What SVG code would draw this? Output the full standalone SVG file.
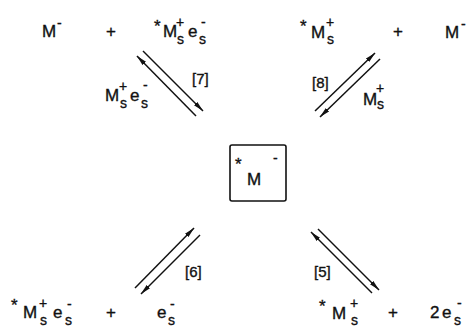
<svg xmlns="http://www.w3.org/2000/svg" width="475" height="330" viewBox="0 0 475 330">
<defs>
<marker id="ah" viewBox="0 0 11 6" refX="10.5" refY="3" markerWidth="11" markerHeight="6" markerUnits="userSpaceOnUse" orient="auto">
<path d="M0,0.6 L11,3 L0,5.4 Z" fill="#111"/>
</marker>
</defs>
<style>
text{font-family:"Liberation Sans","DejaVu Sans",sans-serif;fill:#111;stroke:#111;stroke-width:0.35}
.m{font-size:17px}
.s{font-size:14px}
.a{font-size:17px}
.l{font-size:15px}
.ar{stroke:#111;stroke-width:1.5;fill:none;marker-end:url(#ah)}
</style>
<rect width="475" height="330" fill="#fff"/>

<g id="center">
<rect x="230" y="145" width="56" height="56" rx="2" fill="none" stroke="#111" stroke-width="1.6"/>
<text class="a" x="235" y="170">*</text>
<text class="m" x="247" y="185">M</text>
<text class="s" x="273" y="163">-</text>
</g>

<g id="top-left">
<text class="m" x="42" y="37">M</text>
<text class="s" x="57" y="28">-</text>
<text class="m" x="106" y="37">+</text>
<text class="a" x="154" y="32">*</text>
<text class="m" x="163" y="37">M</text>
<text class="s" x="176" y="27">+</text>
<text class="s" x="177" y="44">s</text>
<text class="m" x="188" y="37">e</text>
<text class="s" x="201" y="27">-</text>
<text class="s" x="199" y="44">s</text>
</g>

<g id="top-right">
<text class="a" x="300" y="32">*</text>
<text class="m" x="311" y="38">M</text>
<text class="s" x="326" y="27">+</text>
<text class="s" x="327" y="44">s</text>
<text class="m" x="393" y="37">+</text>
<text class="m" x="445" y="38">M</text>
<text class="s" x="461" y="29">-</text>
</g>

<g id="bottom-left">
<text class="a" x="11" y="311">*</text>
<text class="m" x="23" y="318">M</text>
<text class="s" x="39" y="308">+</text>
<text class="s" x="40" y="325">s</text>
<text class="m" x="53" y="318">e</text>
<text class="s" x="67" y="309">-</text>
<text class="s" x="65" y="325">s</text>
<text class="m" x="106" y="318">+</text>
<text class="m" x="157" y="318">e</text>
<text class="s" x="170" y="309">-</text>
<text class="s" x="168" y="325">s</text>
</g>

<g id="bottom-right">
<text class="a" x="319" y="312">*</text>
<text class="m" x="332" y="319">M</text>
<text class="s" x="350" y="308">+</text>
<text class="s" x="351" y="325">s</text>
<text class="m" x="388" y="318">+</text>
<text class="m" x="430" y="318">2</text>
<text class="m" x="442" y="318">e</text>
<text class="s" x="457" y="308">-</text>
<text class="s" x="454" y="325">s</text>
</g>

<g id="connectors">
<line class="ar" x1="143" y1="51" x2="203" y2="111"/>
<line class="ar" x1="196" y1="116" x2="137" y2="56"/>
<line class="ar" x1="315" y1="111" x2="375" y2="53"/>
<line class="ar" x1="380" y1="59" x2="320" y2="117"/>
<line class="ar" x1="135" y1="288" x2="194" y2="228"/>
<line class="ar" x1="200" y1="235" x2="141" y2="294"/>
<line class="ar" x1="318" y1="229" x2="379" y2="290"/>
<line class="ar" x1="372" y1="293" x2="311" y2="232"/>
</g>

<g id="labels">
<text class="l" x="192" y="84">[7]</text>
<text class="m" x="105" y="101">M</text>
<text class="s" x="119" y="91">+</text>
<text class="s" x="120" y="108">s</text>
<text class="m" x="130" y="101">e</text>
<text class="s" x="143" y="90">-</text>
<text class="s" x="141" y="108">s</text>

<text class="l" x="312" y="88">[8]</text>
<text class="m" x="363" y="105">M</text>
<text class="s" x="376" y="93">+</text>
<text class="s" x="377" y="109">s</text>

<text class="l" x="185" y="277">[6]</text>
<text class="l" x="314" y="277">[5]</text>
</g>
</svg>
